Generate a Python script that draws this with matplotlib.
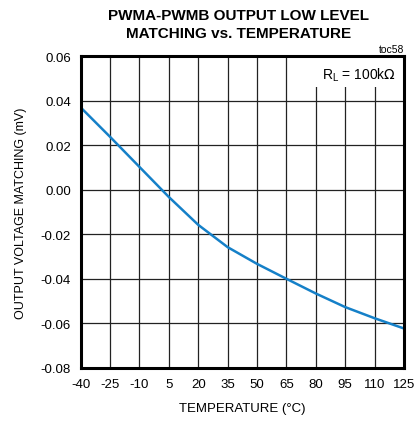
import numpy as np
import matplotlib
matplotlib.use("Agg")
import matplotlib.pyplot as plt
from matplotlib.patches import Rectangle

plt.rcParams['font.family'] = ['Liberation Sans', 'DejaVu Sans']

# data
temp_c = [-40, -25, -10, 5, 20, 35, 50, 65, 80, 95, 110, 125]
matching_mv = [0.0369, 0.0237, 0.0102, -0.0033, -0.0158, -0.0258, -0.0333,
               -0.0400, -0.0466, -0.0527, -0.0577, -0.0623]

x_ticks = [-40, -25, -10, 5, 20, 35, 50, 65, 80, 95, 110, 125]
y_ticks = [-0.08, -0.06, -0.04, -0.02, 0.00, 0.02, 0.04, 0.06]

fig = plt.figure(figsize=(4.15, 4.27), dpi=100)
ax = fig.add_axes([0.1945, 0.136, 0.779, 0.7305])

ax.plot(temp_c, matching_mv, color='#1580c8', linewidth=1.8, zorder=3)

ax.set_xlim(-40, 125)
ax.set_ylim(-0.08, 0.06)
ax.set_xticks(x_ticks)
ax.set_yticks(y_ticks)
ax.set_xticklabels([str(t) for t in x_ticks])
ax.set_yticklabels([f"{v:.2f}" for v in y_ticks])
ax.tick_params(length=0, labelsize=9.5, pad=7)
ax.grid(True, color='#222222', linewidth=0.9)
ax.set_axisbelow(True)
for s in ax.spines.values():
    s.set_linewidth(2.2)
    s.set_color('black')
    s.set_zorder(5)

ax.set_xlabel("TEMPERATURE (°C)", fontsize=9.5, labelpad=9)
ax.set_ylabel("OUTPUT VOLTAGE MATCHING (mV)", fontsize=9, labelpad=10)

# white box behind the load note
ax.add_patch(Rectangle((0.70, 0.9), 0.30, 0.10, transform=ax.transAxes,
                       facecolor='white', edgecolor='none', zorder=2))
ax.text(0.975, 0.94, r"R$_\mathregular{L}$ = 100k$\Omega$", transform=ax.transAxes,
        ha='right', va='center', fontsize=10, zorder=4)

fig.text(0.975, 0.872, "toc58", ha='right', va='bottom', fontsize=7.5)
fig.text(0.575, 0.978, "PWMA-PWMB OUTPUT LOW LEVEL\nMATCHING vs. TEMPERATURE",
         ha='center', va='top', fontsize=11, fontweight='bold', linespacing=1.3)

fig.savefig("out.png", dpi=100)
